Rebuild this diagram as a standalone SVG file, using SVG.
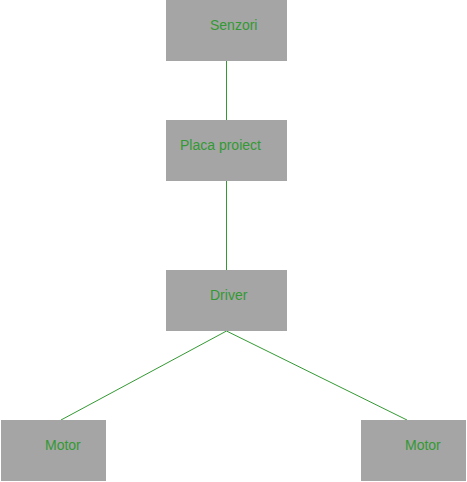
<svg xmlns="http://www.w3.org/2000/svg" width="467" height="482" viewBox="0 0 467 482">
<style>
.box{fill:#a5a5a5;}
.lbl{fill:#339933;font-family:"Liberation Sans",Arial,sans-serif;font-size:14px;}
.ln{stroke:#339933;stroke-width:1;fill:none;}
</style>
<rect width="467" height="482" fill="#ffffff"/>
<g id="connectors">
<line class="ln" x1="226.5" y1="61" x2="226.5" y2="120"/>
<line class="ln" x1="226.5" y1="181" x2="226.5" y2="270"/>
<line class="ln" x1="226.5" y1="331" x2="61" y2="420"/>
<line class="ln" x1="226.5" y1="331" x2="407" y2="420"/>
</g>
<g id="senzori"><rect class="box" x="166" y="0" width="121" height="61"/><text class="lbl" x="210" y="30">Senzori</text></g>
<g id="placa"><rect class="box" x="166" y="120" width="121" height="61"/><text class="lbl" x="180" y="150">Placa proiect</text></g>
<g id="driver"><rect class="box" x="166" y="270" width="121" height="61"/><text class="lbl" x="210" y="300">Driver</text></g>
<g id="motor1"><rect class="box" x="1" y="420" width="105" height="61"/><text class="lbl" x="45" y="450">Motor</text></g>
<g id="motor2"><rect class="box" x="361" y="420" width="105" height="61"/><text class="lbl" x="405" y="450">Motor</text></g>
</svg>
